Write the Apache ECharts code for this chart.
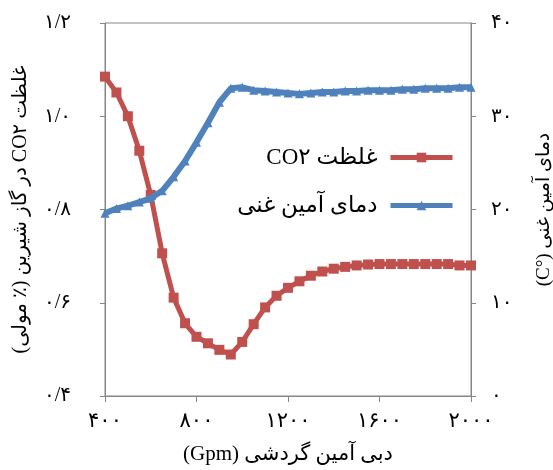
<!DOCTYPE html>
<html>
<head>
<meta charset="utf-8">
<script src="https://cdn.jsdelivr.net/npm/echarts@6/dist/echarts.min.js"></script>
<style>html,body{margin:0;padding:0;background:#fff}#c{width:553px;height:470px}</style>
</head>
<body>
<div id="c"></div>
<script>
const flowValues = [400,450,500,550,600,650,700,750,800,850,900,950,1000,1050,1100,1150,1200,1250,1300,1350,1400,1450,1500,1550,1600,1650,1700,1750,1800,1850,1900,1950,2000];
const co2Values = [1.085,1.051,1.000,0.926,0.831,0.706,0.611,0.556,0.527,0.513,0.499,0.489,0.516,0.554,0.590,0.615,0.632,0.646,0.658,0.667,0.673,0.677,0.680,0.682,0.683,0.683,0.683,0.683,0.683,0.683,0.683,0.680,0.680];
const tempValues = [19.6,20.1,20.4,20.8,21.2,22.0,23.5,25.2,27.2,29.3,31.5,33.0,33.1,32.8,32.7,32.6,32.5,32.4,32.5,32.6,32.6,32.7,32.7,32.8,32.8,32.8,32.9,32.9,33.0,33.0,33.0,33.1,33.1];
const xTickLabels = ['۴۰۰','۸۰۰','۱۲۰۰','۱۶۰۰','۲۰۰۰'];
const leftTickLabels = ['۰/۴','۰/۶','۰/۸','۱/۰','۱/۲'];
const rightTickLabels = ['۰','۱۰','۲۰','۳۰','۴۰'];
const seriesNames = ['\u202Bغلظت CO۲\u202C','دمای آمین غنی'];
const xName = '\u202Bدبی آمین گردشی (Gpm)\u202C';
const leftName = '\u202Bغلظت CO۲ در گاز شیرین (٪ مولی)\u202C';
const rightName = '\u202Bدمای آمین غنی (°C)\u202C';

const FONT = "'Liberation Serif','DejaVu Serif','DejaVu Sans',serif";
const axisCol = '#868686';
const chart = echarts.init(document.getElementById('c'), null, {renderer:'canvas'});
const co2Data = flowValues.map((x,i)=>[x, co2Values[i]]);
const tempData = flowValues.map((x,i)=>[x, tempValues[i]]);

chart.setOption({
  animation:false,
  backgroundColor:'#fff',
  grid:{left:105,right:82,top:23,bottom:74,show:true,borderColor:axisCol,borderWidth:1,backgroundColor:'transparent',outerBoundsMode:'none',containLabel:false},
  legend:{
    orient:'vertical', right:98, top:146, align:'right', padding:0,
    itemWidth:62, itemHeight:12, itemGap:25,
    lineStyle:{width:5},
    textStyle:{fontFamily:FONT,fontSize:23,color:'#000',padding:[0,8,0,0]},
    data:seriesNames
  },
  xAxis:{
    type:'value', min:400, max:2000, interval:400,
    axisLine:{lineStyle:{color:axisCol,width:1}},
    axisTick:{show:true,length:6,inside:false,lineStyle:{color:axisCol}},
    splitLine:{show:false},
    axisLabel:{color:'#000',fontFamily:FONT,fontSize:21,margin:15,
      formatter:(v)=>{const i=Math.round((v-400)/400);return xTickLabels[i]||'';}},
    name:xName, nameLocation:'middle', nameGap:48,
    nameTextStyle:{color:'#000',fontFamily:FONT,fontSize:21}
  },
  yAxis:[{
    type:'value', min:0.4, max:1.2, interval:0.2, position:'left',
    axisLine:{show:true,lineStyle:{color:axisCol,width:1}},
    axisTick:{show:true,length:5,lineStyle:{color:axisCol}},
    splitLine:{show:false},
    axisLabel:{color:'#000',fontFamily:FONT,fontSize:20,margin:34,
      formatter:(v)=>{const i=Math.round((v-0.4)/0.2);return leftTickLabels[i]||'';}},
    name:leftName, nameLocation:'middle', nameGap:74, nameRotate:90,
    nameTextStyle:{color:'#000',fontFamily:FONT,fontSize:20}
  },{
    type:'value', min:0, max:40, interval:10, position:'right',
    axisLine:{show:true,lineStyle:{color:axisCol,width:1}},
    axisTick:{show:true,length:5,lineStyle:{color:axisCol}},
    splitLine:{show:false},
    axisLabel:{color:'#000',fontFamily:FONT,fontSize:20,margin:20,
      formatter:(v)=>{const i=Math.round(v/10);return rightTickLabels[i]||'';}},
    name:rightName, nameLocation:'middle', nameGap:64, nameRotate:90,
    nameTextStyle:{color:'#000',fontFamily:FONT,fontSize:19}
  }],
  series:[{
    name:seriesNames[0], type:'line', yAxisIndex:0, data:co2Data,
    symbol:'rect', symbolSize:10, showSymbol:true,
    lineStyle:{color:'#C0504D',width:5},
    itemStyle:{color:'#C0504D'}, z:2
  },{
    name:seriesNames[1], type:'line', yAxisIndex:1, data:tempData,
    symbol:'triangle', symbolSize:9, showSymbol:true,
    lineStyle:{color:'#4F81BD',width:6},
    itemStyle:{color:'#4F81BD'}, z:3
  }]
});
</script>
</body>
</html>
